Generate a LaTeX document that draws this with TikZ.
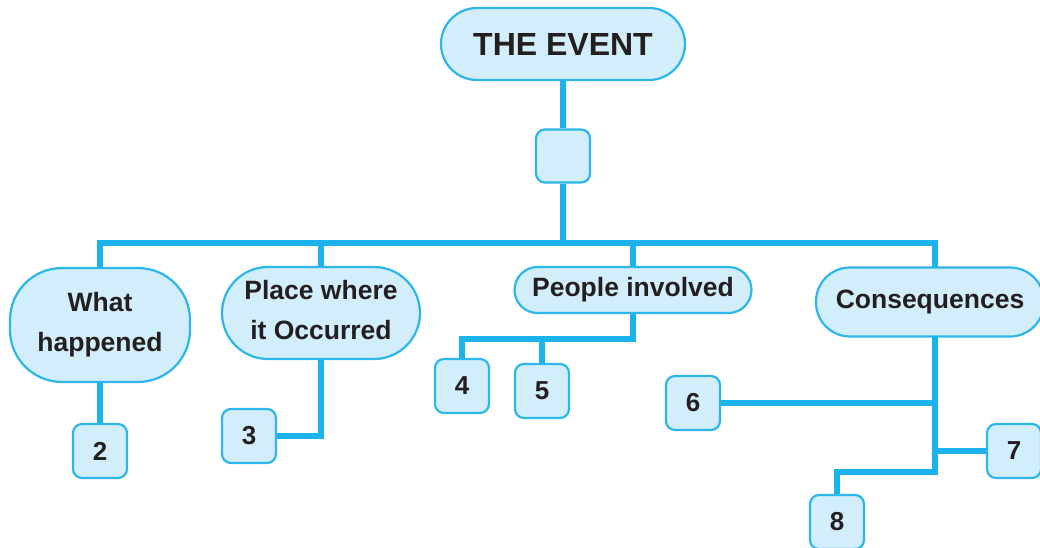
\documentclass[tikz,border=0pt]{standalone}
\usepackage{fontspec}
\setmainfont{Liberation Sans}
\definecolor{boxfill}{HTML}{D3EEFB}
\definecolor{boxline}{HTML}{2DB6EA}
\definecolor{conn}{HTML}{1CB3EC}
\definecolor{ink}{HTML}{231F20}
\begin{document}
\begin{tikzpicture}[x=1pt,y=-1pt,
  box/.style={draw=boxline, fill=boxfill, line width=2.2pt, text=ink, inner sep=0pt, align=center,
    font=\bfseries\fontsize{26.5}{40}\selectfont},
  numbox/.style={box, minimum width=54pt, minimum height=54pt, rounded corners=9pt,
    font=\bfseries\fontsize{26}{30}\selectfont},
  link/.style={draw=conn, line width=5.2pt, line join=miter}]
\useasboundingbox (0,0) rectangle (1040,548);

\node[box, minimum width=244pt, minimum height=72pt, rounded corners=36pt,
  font=\bfseries\fontsize{32}{38}\selectfont] (event) at (563,44) {THE EVENT};
\node[box, minimum width=54pt, minimum height=53pt, rounded corners=9pt] (blank) at (563,156) {};

\node[box, minimum width=180pt, minimum height=114pt, rounded corners=52pt] (what) at (100,325) {What\\happened};
\node[box, minimum width=198pt, minimum height=92pt, rounded corners=46pt] (place) at (321,313) {};
\node[text=ink, align=center, font=\bfseries\fontsize{26.5}{40}\selectfont, inner sep=0pt] (placetext) at (321,310) {Place where\\it Occurred};
\node[box, minimum width=237pt, minimum height=46pt, rounded corners=23pt] (people) at (633,290) {People involved};
\node[box, minimum width=228pt, minimum height=69pt, rounded corners=34pt] (cons) at (930,302) {Consequences};

\node[numbox] (n2) at (100,451) {2};
\node[numbox] (n3) at (249,436) {3};
\node[numbox] (n4) at (462,386) {4};
\node[numbox] (n5) at (542,391) {5};
\node[numbox] (n6) at (693,403) {6};
\node[numbox] (n7) at (1014,451) {7};
\node[numbox] (n8) at (837,522) {8};

\coordinate (bus) at (563,243);
\coordinate (constop) at (935,267);
\coordinate (consbot) at (935,336);
\coordinate (pj) at (633,339);
\coordinate (cend) at (935,472);

\draw[link] (event.south) -- (blank.north);
\draw[link] (blank.south) -- (bus);
\draw[link] (what.north) -- (what.north |- bus) -- (constop |- bus) -- (constop);
\draw[link] (place.north) -- (place.north |- bus);
\draw[link] (people.north) -- (people.north |- bus);
\draw[link] (what.south) -- (n2.north);
\draw[link] (place.south) |- (n3.east);
\draw[link] (people.south) -- (pj) -| (n4.north);
\draw[link] (n5.north) -- (n5.north |- pj);
\draw[link] (consbot) -- (cend) -| (n8.north);
\draw[link] (n6.east) -- (n6.east -| consbot);
\draw[link] (n7.west) -- (n7.west -| consbot);
\end{tikzpicture}
\end{document}
